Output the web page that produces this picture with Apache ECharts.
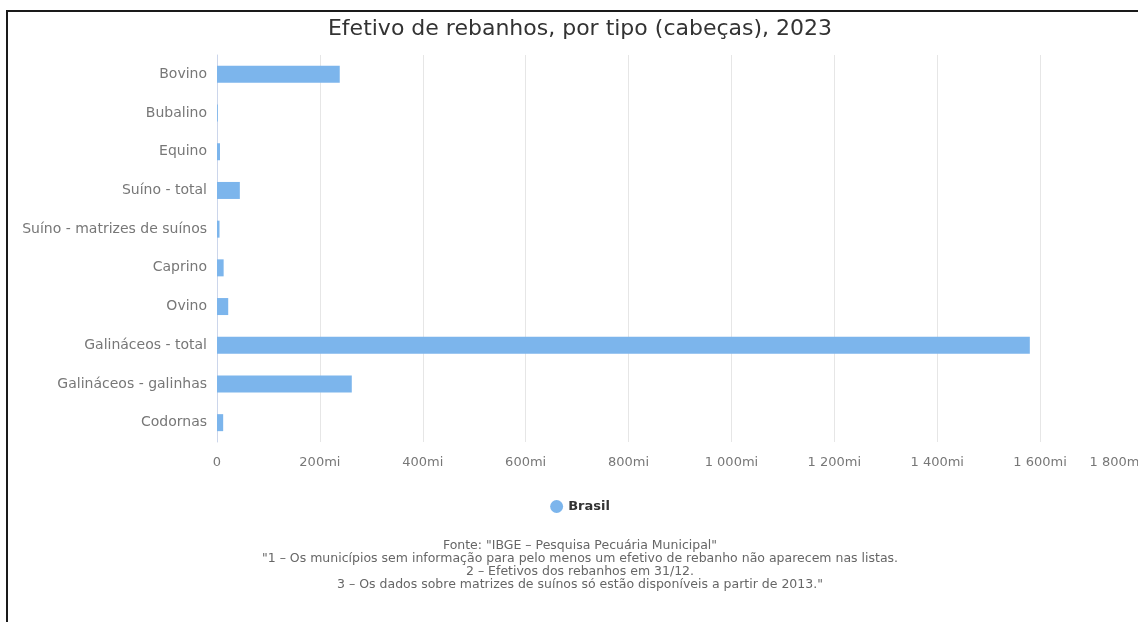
<!DOCTYPE html>
<html>
<head>
<meta charset="utf-8">
<script src="https://cdn.jsdelivr.net/npm/echarts@6/dist/echarts.min.js"></script>
<style>
    html, body { margin: 0; padding: 0; background: #fff; overflow: hidden; }
    #chart { position: absolute; left: 0; top: 0; width: 1160px; height: 622px; }
    .frame {
        position: absolute; left: 6px; top: 10px; width: 1200px; height: 700px;
        border-top: 2px solid #1a1a1a; border-left: 2px solid #1a1a1a;
        pointer-events: none;
    }
</style>
</head>
<body>
<div id="chart"></div>
<div class="frame"></div>
<script>
    // categorias e valores (cabeças)
    const categorias = [
        'Bovino', 'Bubalino', 'Equino', 'Suíno - total', 'Suíno - matrizes de suínos',
        'Caprino', 'Ovino', 'Galináceos - total', 'Galináceos - galinhas', 'Codornas'
    ];
    const brasil = [
        238600000, 1600000, 5800000, 44400000, 4900000,
        12900000, 21800000, 1580000000, 262000000, 12000000
    ];
    const nomeSerie = 'Brasil';
    const titulo = 'Efetivo de rebanhos, por tipo (cabeças), 2023';
    const rodape = [
        'Fonte: "IBGE – Pesquisa Pecuária Municipal"',
        '"1 – Os municípios sem informação para pelo menos um efetivo de rebanho não aparecem nas listas.',
        '2 – Efetivos dos rebanhos em 31/12.',
        '3 – Os dados sobre matrizes de suínos só estão disponíveis a partir de 2013."'
    ];

    function formataMi(v) {
        if (v === 0) return '0';
        let n = Math.round(v / 1e6).toString();
        n = n.replace(/\B(?=(\d{3})+(?!\d))/g, ' ');
        return n + 'mi';
    }

    const chart = echarts.init(document.getElementById('chart'));
    const option = {
        textStyle: { fontFamily: '"DejaVu Sans", Verdana, sans-serif' },
        animation: false,
        title: [{
            text: titulo,
            left: 'center',
            top: 13,
            textStyle: { fontSize: 22, fontWeight: 'normal', color: '#333' }
        }, {
            text: rodape.join('\n'),
            left: 'center',
            top: 534,
            padding: [5, 25, 5, 5],
            textStyle: { fontSize: 12.5, fontWeight: 'normal', color: '#666', lineHeight: 13 }
        }],
        legend: {
            data: [nomeSerie],
            left: 'center',
            top: 495,
            icon: 'circle',
            itemWidth: 13,
            itemHeight: 13,
            itemGap: 8,
            textStyle: { fontSize: 13, fontWeight: 'bold', color: '#333' }
        },
        grid: {
            left: 217,
            top: 55,
            height: 387,
            width: 926,
            containLabel: false
        },
        xAxis: {
            type: 'value',
            min: 0,
            max: 1800000000,
            interval: 200000000,
            axisLine: { show: false },
            axisTick: { show: false },
            splitLine: { lineStyle: { color: '#e6e6e6' } },
            axisLabel: {
                color: '#777',
                fontSize: 13,
                margin: 14,
                alignMaxLabel: 'right',
                formatter: formataMi
            }
        },
        yAxis: {
            type: 'category',
            inverse: true,
            data: categorias,
            axisLine: { lineStyle: { color: '#ccd6eb' } },
            axisTick: { length: 8, lineStyle: { color: '#ccd6eb' } },
            axisLabel: { color: '#777', fontSize: 14, margin: 10 }
        },
        series: [{
            name: nomeSerie,
            type: 'bar',
            data: brasil,
            barWidth: 17,
            itemStyle: { color: '#7cb5ec' }
        }]
    };
    chart.setOption(option);
</script>
</body>
</html>
